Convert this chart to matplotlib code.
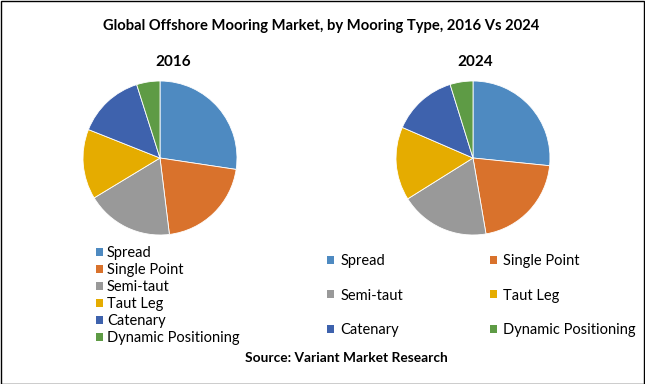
import matplotlib
matplotlib.use("Agg")
from matplotlib import pyplot as plt
from matplotlib.patches import Patch, Rectangle

plt.rcParams['font.family'] = ['Lato', 'DejaVu Sans']

# Shares by mooring type (%)
types = ['Spread', 'Single Point', 'Semi-taut', 'Taut Leg', 'Catenary', 'Dynamic Positioning']
share_2016 = [27.4, 20.7, 18.3, 14.7, 14.1, 4.9]
share_2024 = [26.6, 20.7, 18.8, 15.4, 13.7, 4.8]
colors = ['#4E8AC1', '#D9722C', '#999999', '#E5AC00', '#3E62AD', '#5E9B45']

W, H = 645, 384
fig = plt.figure(figsize=(W / 100, H / 100), dpi=100)

def pie_axes(cx, cy, r):
	ax = fig.add_axes([(cx - r) / W, 1 - (cy + r) / H, 2 * r / W, 2 * r / H])
	return ax

# (pie centre x, label centre x, year, values)
for (cx, lx, year, vals) in [(160, 173, '2016', share_2016), (473, 475, '2024', share_2024)]:
	ax = pie_axes(cx, 158, 77)
	ax.pie(vals, colors=colors, startangle=90, counterclock=False,
		   wedgeprops={'edgecolor': 'white', 'linewidth': 0.6})
	ax.set_xlim(-1, 1)
	ax.set_ylim(-1, 1)
	ax.set_aspect('equal')
	ax.axis('off')
	fig.text(lx / W, 1 - 62 / H, year, ha='center', va='center', fontsize=11, fontweight='bold')

handles = [Patch(facecolor=c, edgecolor='none') for c in colors]
leg_kw = dict(loc='upper left', frameon=False, fontsize=10.5, handlelength=0.45, handleheight=0.45,
			  borderpad=0, borderaxespad=0)

# left legend: single column
fig.legend(handles, types, bbox_to_anchor=(96 / W, 1 - 246.5 / H),
		   handletextpad=0.3, labelspacing=0.2, **leg_kw)

# right legend: two columns, row-major order -> two separate columns
col1 = [0, 2, 4]
col2 = [1, 3, 5]
for idx, x0 in [(col1, 327), (col2, 490)]:
	fig.legend([handles[i] for i in idx], [types[i] for i in idx],
			   bbox_to_anchor=(x0 / W, 1 - 254 / H),
			   handletextpad=0.45, labelspacing=1.41, **leg_kw)

fig.text(321 / W, 1 - 26 / H, 'Global Offshore Mooring Market, by Mooring Type, 2016 Vs 2024',
		 ha='center', va='center', fontsize=10.6, fontweight='bold')
fig.text(346 / W, 1 - 358 / H, 'Source: Variant Market Research',
		 ha='center', va='center', fontsize=9.9, fontweight='bold')

fig.patches.append(Rectangle((0.5 / W, 0.5 / H), 1 - 1.5 / W, 1 - 1.5 / H, transform=fig.transFigure,
							 fill=False, edgecolor='black', linewidth=1))

fig.savefig('out.png', dpi=100)
